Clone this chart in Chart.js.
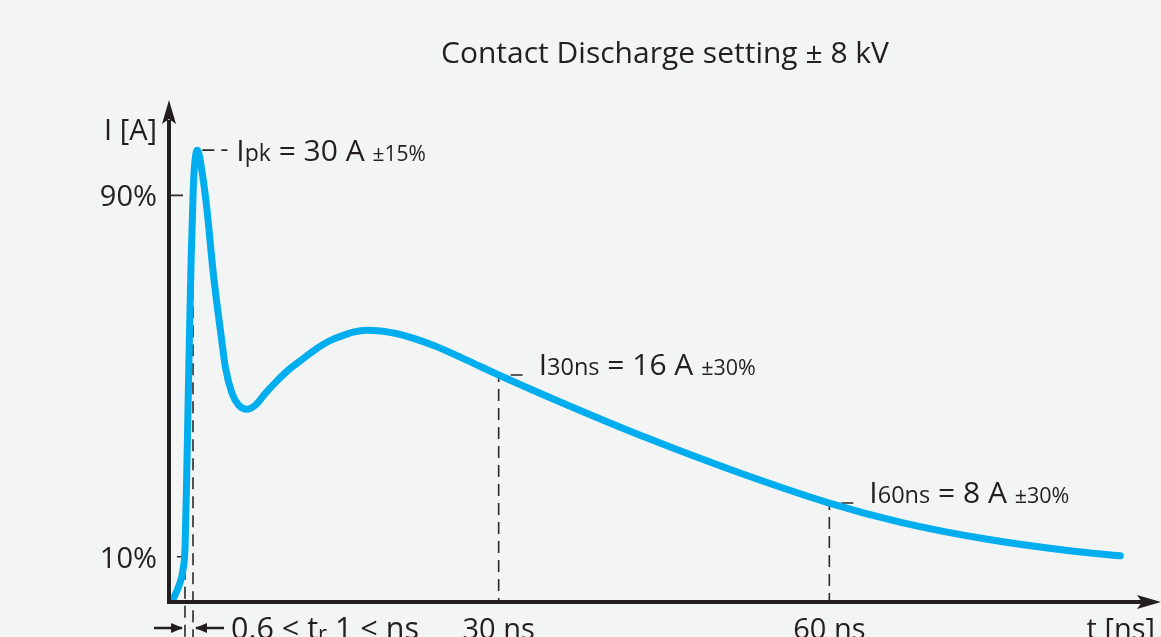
<!DOCTYPE html>
<html>
<head>
<meta charset="utf-8">
<title>Contact Discharge setting ± 8 kV</title>
<script src="https://cdn.jsdelivr.net/npm/chart.js@4.4.1/dist/chart.umd.min.js"></script>
<style>
  html, body { margin: 0; padding: 0; background: #f3f4f4; overflow: hidden; }
  #wrap { width: 1161px; height: 637px; position: relative; }
</style>
</head>
<body>
<div id="wrap"><canvas id="esdChart" width="1161" height="637"></canvas></div>
<script>
// discharge current waveform
const timeNs = [0.43, 0.95, 1.35, 1.55, 1.7, 1.9, 2.1, 2.3, 2.45, 2.66, 2.88, 3.11, 3.51, 4.11, 4.87, 5.2, 5.81, 6.41, 7.17,
                7.92, 8.83, 9.89, 10.95, 12.16, 13.48, 14.5, 15.6, 16.8, 18.0, 20.7, 24.05, 27.1, 30.0,
                36.0, 43.6, 51.2, 60.0, 66.5, 74.2, 81.8, 86.4];
const currentA = [0.13, 1.0, 2.1, 3.7, 8.5, 16.0, 22.8, 27.6, 29.3, 30.0, 29.5, 28.47, 26.23, 21.81, 17.39, 15.61, 13.85, 13.07, 12.79,
                  13.07, 13.85, 14.68, 15.42, 16.1, 16.82, 17.28, 17.62, 17.92, 18.05, 17.83, 17.05, 16.06, 15.07,
                  13.15, 10.85, 8.75, 6.57, 5.29, 4.18, 3.4, 3.07];

// axis ranges
const timeMax = 90;
const currentMax = 33.33;

// rise time markers (10% and 90% of peak)
const levelLabels = ['10%', '90%'];
const levelA = [3, 27];
const levelNs = [1.54, 2.27];

// peak
const peakNs = 2.66;
const peakA = 30;

// sampled points at 30 ns and 60 ns
const sampleNs = [30, 60];
const sampleA = [15.07, 6.57];
const sampleNames = ['30ns', '60ns'];
const sampleValues = ['16 A', '8 A'];
const sampleTol = ['±30%', '±30%'];

// bottom axis labels
const tickLabels = ['30 ns', '60 ns'];
const titleText = 'Contact Discharge setting ± 8 kV';

const FONT = '"Open Sans", "Noto Sans", sans-serif';
const INK = '#231f20';

function richText(ctx, x, y, parts) {
    let cx = x;
    parts.forEach(p => {
        ctx.font = p.size + 'px ' + FONT;
        ctx.fillText(p.t, cx, y + (p.dy || 0));
        cx += ctx.measureText(p.t).width;
    });
}

function dashed(ctx, pts) {
    ctx.beginPath();
    ctx.moveTo(pts[0][0], pts[0][1]);
    for (let i = 1; i < pts.length; i++) ctx.lineTo(pts[i][0], pts[i][1]);
    ctx.stroke();
}

const backgroundPlugin = {
    id: 'background',
    beforeDraw(chart) {
        const ctx = chart.ctx;
        ctx.save();
        ctx.fillStyle = '#f3f4f4';
        ctx.fillRect(0, 0, chart.width, chart.height);
        ctx.restore();
    }
};

// dashed guide lines, drawn under the curve
const guidePlugin = {
    id: 'guides',
    beforeDatasetsDraw(chart) {
        const ctx = chart.ctx;
        const xs = chart.scales.x, ys = chart.scales.y;
        const x0 = xs.getPixelForValue(0), y0 = ys.getPixelForValue(0);
        const bottom = chart.height;
        ctx.save();
        ctx.strokeStyle = '#2a2a2a';
        ctx.lineWidth = 1.6;
        ctx.setLineDash([12, 7]);

        // 10% / 90% levels
        const px10 = xs.getPixelForValue(levelNs[0]), py10 = ys.getPixelForValue(levelA[0]);
        dashed(ctx, [[px10 - 8, py10], [px10, py10], [px10, bottom]]);
        const px90 = xs.getPixelForValue(levelNs[1]), py90 = ys.getPixelForValue(levelA[1]);
        dashed(ctx, [[x0 + 3, py90], [px90, py90], [px90, bottom]]);

        // peak
        const pkx = xs.getPixelForValue(peakNs), pky = ys.getPixelForValue(peakA);
        dashed(ctx, [[pkx + 5, pky], [pkx + 30, pky]]);

        // 30 ns / 60 ns
        sampleNs.forEach((t, i) => {
            const px = xs.getPixelForValue(t);
            const py = ys.getPixelForValue(sampleA[i]);
            dashed(ctx, [[px + 24, py], [px, py], [px, y0]]);
        });
        ctx.restore();
    }
};

// axes with arrow heads and all the labels
const axesPlugin = {
    id: 'axesArrows',
    afterDraw(chart) {
        const ctx = chart.ctx;
        const xs = chart.scales.x, ys = chart.scales.y;
        const x0 = xs.getPixelForValue(0) + 1, y0 = ys.getPixelForValue(0);
        const xEnd = xs.getPixelForValue(timeMax), yTop = ys.getPixelForValue(currentMax);
        ctx.save();
        ctx.strokeStyle = INK;
        ctx.fillStyle = INK;
        ctx.lineWidth = 4;
        ctx.beginPath();
        ctx.moveTo(x0, yTop + 20);
        ctx.lineTo(x0, y0);
        ctx.lineTo(xEnd - 14, y0);
        ctx.stroke();
        // arrow heads
        ctx.beginPath();
        ctx.moveTo(x0, yTop);
        ctx.lineTo(x0 - 7, yTop + 24);
        ctx.lineTo(x0, yTop + 19);
        ctx.lineTo(x0 + 7, yTop + 24);
        ctx.closePath();
        ctx.fill();
        ctx.beginPath();
        ctx.moveTo(xEnd + 1, y0);
        ctx.lineTo(xEnd - 23, y0 - 7);
        ctx.lineTo(xEnd - 18, y0);
        ctx.lineTo(xEnd - 23, y0 + 7);
        ctx.closePath();
        ctx.fill();

        // title
        ctx.textBaseline = 'alphabetic';
        ctx.textAlign = 'center';
        ctx.font = '30px ' + FONT;
        ctx.fillText(titleText, 665, 63);

        // y axis labels
        ctx.textAlign = 'right';
        ctx.font = '29px ' + FONT;
        ctx.fillText('I [A]', x0 - 12, 140);
        levelA.forEach((a, i) => {
            ctx.fillText(levelLabels[i], x0 - 12, ys.getPixelForValue(a) + 11);
        });

        // x axis labels
        ctx.textAlign = 'center';
        tickLabels.forEach((lab, i) => {
            ctx.fillText(lab, xs.getPixelForValue(sampleNs[i]), 639);
        });
        ctx.textAlign = 'right';
        ctx.fillText('t [ns]', xEnd - 5, 639);

        // annotations
        ctx.textAlign = 'left';
        const pkx = xs.getPixelForValue(peakNs), pky = ys.getPixelForValue(peakA);
        richText(ctx, pkx + 39, pky + 11, [
            { t: 'I', size: 30 }, { t: 'pk', size: 23 }, { t: ' = 30 A ', size: 30 }, { t: '±15%', size: 21 }
        ]);
        sampleNs.forEach((t, i) => {
            const px = xs.getPixelForValue(t), py = ys.getPixelForValue(sampleA[i]);
            richText(ctx, px + 40, py, [
                { t: 'I', size: 30 }, { t: sampleNames[i], size: 23.5 }, { t: ' = ' + sampleValues[i] + ' ', size: 30 },
                { t: sampleTol[i], size: 21.5 }
            ]);
        });

        // rise time label
        const r10 = xs.getPixelForValue(levelNs[0]), r90 = xs.getPixelForValue(levelNs[1]);
        const ay = 628;
        ctx.lineWidth = 2.5;
        ctx.beginPath();
        ctx.moveTo(r10 - 31, ay); ctx.lineTo(r10 - 3, ay);
        ctx.moveTo(r90 + 3, ay); ctx.lineTo(r90 + 31, ay);
        ctx.stroke();
        [[r10 - 2, 1], [r90 + 2, -1]].forEach(([tx, d]) => {
            ctx.beginPath();
            ctx.moveTo(tx, ay);
            ctx.lineTo(tx - d * 12, ay - 5);
            ctx.lineTo(tx - d * 12, ay + 5);
            ctx.closePath();
            ctx.fill();
        });
        richText(ctx, r90 + 38, 639, [
            { t: '0.6 ≤ t', size: 30.5 }, { t: 'r', size: 22, dy: 2 }, { t: ' 1 ≤ ns', size: 30.5 }
        ]);
        ctx.restore();
    }
};

const ctx = document.getElementById('esdChart').getContext('2d');
const esdChart = new Chart(ctx, {
    type: 'line',
    data: {
        datasets: [{
            label: 'I(t)',
            data: timeNs.map((t, i) => ({ x: t, y: currentA[i] })),
            borderColor: '#00aeef',
            borderWidth: 7,
            borderCapStyle: 'round',
            borderJoinStyle: 'round',
            pointRadius: 0,
            fill: false,
            cubicInterpolationMode: 'monotone'
        }]
    },
    options: {
        responsive: false,
        animation: false,
        layout: { padding: { left: 168, right: 1, top: 100, bottom: 35 } },
        plugins: { legend: { display: false }, tooltip: { enabled: false } },
        scales: {
            x: { type: 'linear', min: 0, max: timeMax, display: false },
            y: { type: 'linear', min: 0, max: currentMax, display: false }
        }
    },
    plugins: [backgroundPlugin, guidePlugin, axesPlugin]
});
</script>
</body>
</html>
